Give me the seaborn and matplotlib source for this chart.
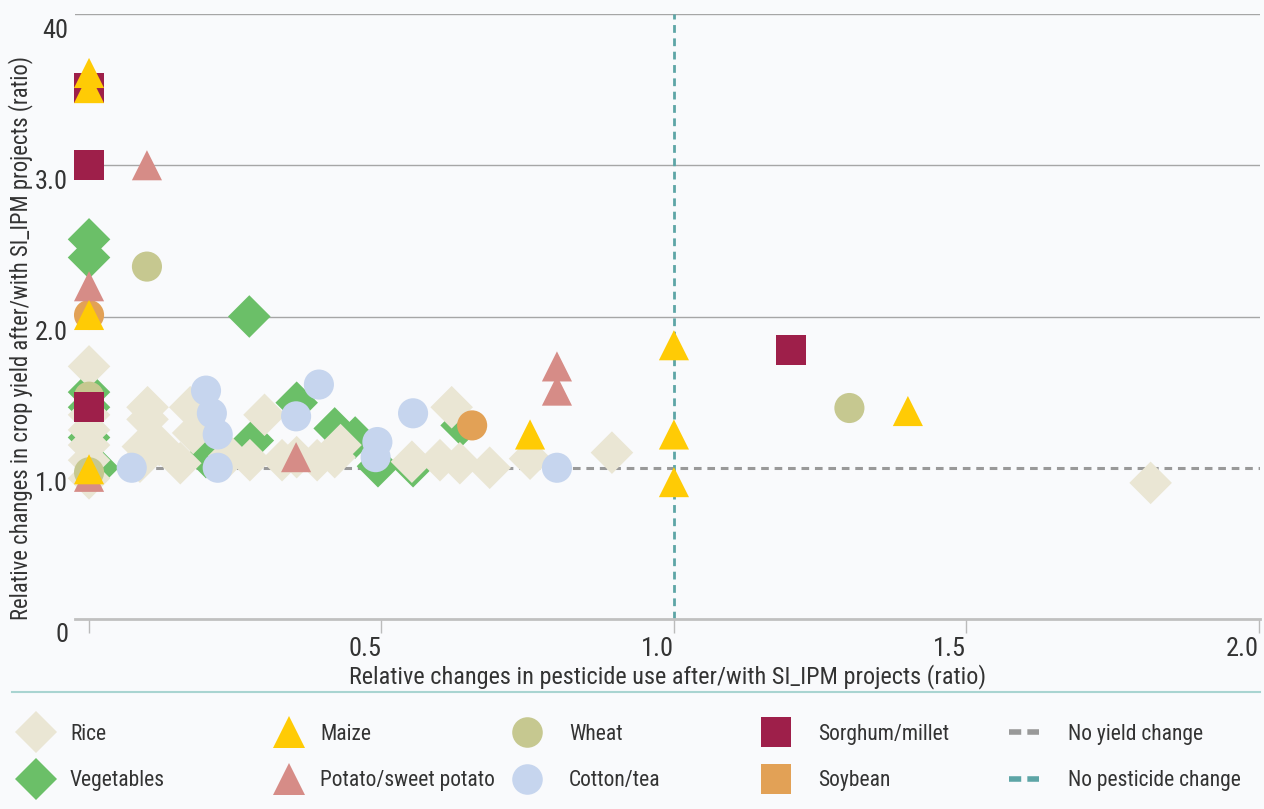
import numpy as np
import pandas as pd
import matplotlib
matplotlib.use("Agg")
import matplotlib.pyplot as plt
import matplotlib.transforms as mtransforms
from matplotlib.lines import Line2D
from matplotlib import font_manager
import seaborn as sns

# Values: x = pesticide ratio, y = yield ratio
veg_x = [0, 0, 0.274, 0, 0, 0, 0.015, 0.20, 0.28, 0.355, 0.42, 0.455, 0.494, 0.554, 0.637]
veg_y = [2.51, 2.39, 2.0, 1.50, 1.40, 1.20, 1.0, 1.07, 1.18, 1.43, 1.26, 1.20, 1.01, 1.01, 1.28]

rice_x = [0, 0, 0, 0, 0, 0, 0.10, 0.10, 0.092, 0.087, 0.173, 0.178, 0.156, 0.12, 0.24,
          0.30, 0.275, 0.33, 0.355, 0.39, 0.42, 0.43, 0.552, 0.60, 0.634, 0.685, 0.62,
          0.754, 0.894, 1.815]
rice_y = [1.67, 1.35, 1.25, 1.15, 1.05, 0.93, 1.40, 1.32, 1.14, 1.04, 1.40, 1.23, 1.03, 1.15, 1.08,
          1.35, 1.05, 1.05, 1.07, 1.05, 1.07, 1.15, 1.04, 1.05, 1.03, 1.0, 1.40,
          1.06, 1.10, 0.90]

cotton_x = [0.20, 0.21, 0.22, 0.22, 0.073, 0.354, 0.393, 0.493, 0.49, 0.554, 0.80]
cotton_y = [1.51, 1.36, 1.22, 1.0, 1.0, 1.34, 1.55, 1.17, 1.07, 1.36, 1.0]

wheat_x = [0.099, 0, 0, 1.30]
wheat_y = [2.33, 1.47, 0.97, 1.395]

soy_x = [0, 0.655]
soy_y = [2.01, 1.28]

potato_x = [0.099, 0, 0, 0.354, 0.80, 0.80]
potato_y = [3.0, 2.2, 0.94, 1.07, 1.67, 1.51]

sorghum_x = [0, 0, 0, 1.20]
sorghum_y = [3.51, 3.0, 1.40, 1.78]

maize_x = [0, 0, 0, 0, 0.754, 1.0, 1.0, 1.0, 1.40]
maize_y = [3.61, 3.51, 2.01, 0.99, 1.22, 1.81, 1.22, 0.905, 1.375]

y_ticks = [0, 1, 2, 3, 4]
y_tick_labels = ["0", "1.0", "2.0", "3.0", "40"]
x_ticks = [0, 0.5, 1.0, 1.5, 2.0]
x_tick_labels = ["", "0.5", "1.0", "1.5", "2.0"]
grid_levels = [2, 3, 4]

colors = {
    "Rice": "#EAE6D4",
    "Vegetables": "#6BBF68",
    "Maize": "#FFCB05",
    "Potato/sweet potato": "#D68C87",
    "Wheat": "#C6C890",
    "Cotton/tea": "#C6D5EE",
    "Sorghum/millet": "#9E1F4A",
    "Soybean": "#E2A156",
}
plot_markers = {
    "Rice": "D", "Vegetables": "D", "Maize": "^", "Potato/sweet potato": "^",
    "Wheat": "o", "Cotton/tea": "o", "Sorghum/millet": "s", "Soybean": "o",
}

# drawing order (later = on top)
series = [
    ("Vegetables", veg_x, veg_y),
    ("Rice", rice_x, rice_y),
    ("Cotton/tea", cotton_x, cotton_y),
    ("Wheat", wheat_x, wheat_y),
    ("Soybean", soy_x, soy_y),
    ("Potato/sweet potato", potato_x, potato_y),
    ("Sorghum/millet", sorghum_x, sorghum_y),
    ("Maize", maize_x, maize_y),
]
df = pd.concat(
    [pd.DataFrame({"pesticide": xs, "yield": ys, "crop": name}) for name, xs, ys in series],
    ignore_index=True,
)

# condensed face if there is one, otherwise plain Roboto a bit smaller
names = {f.name for f in font_manager.fontManager.ttflist}
condensed = [n for n in ["Roboto Condensed", "Liberation Sans Narrow"] if n in names]
if condensed:
    font, k = condensed[0], 1.0
else:
    font, k = "Roboto", 0.88
plt.rcParams["font.family"] = [font, "DejaVu Sans"]
text_color = "#333333"
bg = "#F9FAFC"

W, H = 1264, 809
fig = plt.figure(figsize=(W / 100, H / 100), dpi=100, facecolor=bg)
ax = fig.add_axes([75 / W, 1 - 619 / H, (1260 - 75) / W, (619 - 14) / H])
ax.set_facecolor(bg)

for g in grid_levels:
    ax.axhline(g, color="#A6A6A6", lw=1, zorder=0)
ax.axhline(1.0, color="#999999", lw=2.2, dashes=(2.5, 1.9), zorder=1)
ax.axvline(1.0, color="#5DA5A6", lw=2.0, dashes=(2.8, 2.0), zorder=1)

sns.scatterplot(data=df, x="pesticide", y="yield", hue="crop", style="crop",
                palette=colors, markers=plot_markers, s=470, linewidth=0,
                legend=False, ax=ax, zorder=3)
for coll in ax.collections:
    coll.set_clip_on(False)

ax.set_xlim(-0.024, 2.002)
ax.set_ylim(0, 4)
for side in ["top", "right", "left"]:
    ax.spines[side].set_visible(False)
ax.spines["bottom"].set_color("#C0C0C0")
ax.spines["bottom"].set_linewidth(2)

tick_fs = 19 * k
ax.set_yticks(y_ticks)
ax.set_yticklabels(y_tick_labels, fontsize=tick_fs, color=text_color)
ax.tick_params(axis="y", length=0, pad=5)
shift = mtransforms.ScaledTranslation(0, -14 / 100, fig.dpi_scale_trans)
for lbl in ax.get_yticklabels():
    lbl.set_transform(lbl.get_transform() + shift)

ax.set_xticks(x_ticks)
ax.set_xticklabels(x_tick_labels, fontsize=tick_fs, color=text_color, ha="right")
ax.tick_params(axis="x", length=10, width=1, color="#BBBBBB", pad=3)

ax.set_xlabel("Relative changes in pesticide use after/with SI_IPM projects (ratio)",
              fontsize=17.5 * k, color=text_color)
ax.xaxis.set_label_coords(0.5, -(664 - 619) / 605)
ax.set_ylabel("Relative changes in crop yield after/with SI_IPM projects (ratio)",
              fontsize=16.3 * k, color=text_color)
ax.yaxis.set_label_coords((33 - 75) / 1185, (619 - 338) / 605)

fig.add_artist(Line2D([12 / W, 1260 / W], [1 - 692 / H] * 2, transform=fig.transFigure,
                      color="#A9D4D1", lw=1.5))

# legend, five fixed-width columns of two rows
legend_cols = [
    (36, 34, [("Rice", "D", 21), ("Vegetables", "D", 21)]),
    (289, 31, [("Maize", "^", 23), ("Potato/sweet potato", "^", 23)]),
    (527, 42, [("Wheat", "o", 22), ("Cotton/tea", "o", 22)]),
    (776, 42, [("Sorghum/millet", "s", 22), ("Soybean", "s", 22)]),
]
fs = 15.5 * k
fs_px = fs * 100 / 72
row_gap = (47 - fs_px) / fs_px
legend_y = 1 - 757.5 / H
hl = 1.5
for cx, off, entries in legend_cols:
    handles = [Line2D([], [], ls="none", marker=m, ms=ms, color=colors[n], mew=0, label=n)
               for n, m, ms in entries]
    pad = (off - hl * fs_px / 2) / fs_px
    fig.legend(handles=handles, loc="center left",
               bbox_to_anchor=((cx - hl * fs_px / 2) / W, legend_y),
               frameon=False, fontsize=fs, handlelength=hl, handletextpad=pad,
               labelspacing=row_gap, borderpad=0, borderaxespad=0, labelcolor=text_color)

line_handles = [
    Line2D([], [], color="#999999", lw=4, dashes=(2.2, 1.1), label="No yield change"),
    Line2D([], [], color="#5DA5A6", lw=4, dashes=(2.2, 1.1), label="No pesticide change"),
]
hl2 = 30 / fs_px
fig.legend(handles=line_handles, loc="center left",
           bbox_to_anchor=(1009 / W, legend_y),
           frameon=False, fontsize=fs, handlelength=hl2,
           handletextpad=(1068 - 1039) / fs_px,
           labelspacing=row_gap, borderpad=0, borderaxespad=0, labelcolor=text_color)

fig.savefig("out.png", dpi=100, facecolor=bg)
